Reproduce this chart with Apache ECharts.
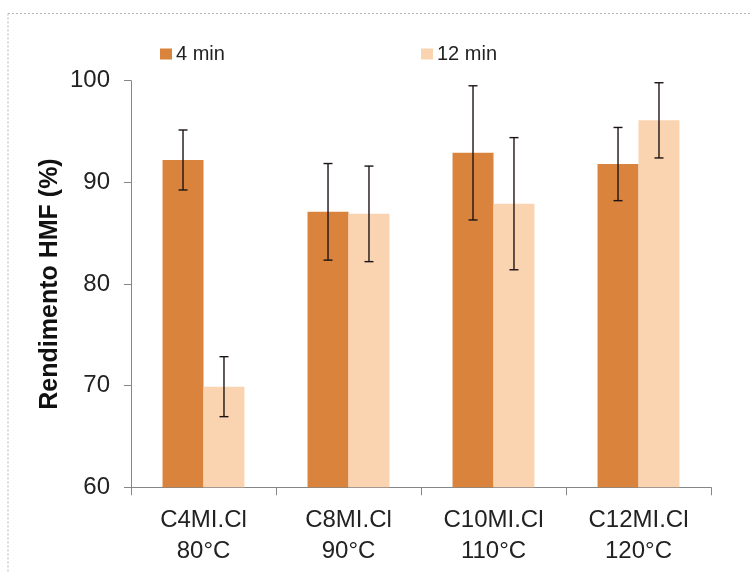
<!DOCTYPE html>
<html>
<head>
<meta charset="utf-8">
<script src="https://cdn.jsdelivr.net/npm/echarts@6/dist/echarts.min.js"></script>
<style>html,body{margin:0;padding:0;background:#fff;}#chart{width:751px;height:573px;}</style>
</head>
<body>
<div id="chart"></div>
<script>
var categories = ['C4MI.Cl\n80°C', 'C8MI.Cl\n90°C', 'C10MI.Cl\n110°C', 'C12MI.Cl\n120°C'];
var seriesNames = ['4 min', '12 min'];
var values4 = [92.2, 87.1, 92.9, 91.8];
var values12 = [69.9, 86.9, 87.9, 96.1];
var err4 = [2.95, 4.75, 6.6, 3.6];
var err12 = [2.95, 4.7, 6.5, 3.7];
var yTicks = [60, 70, 80, 90, 100];

var FONT = "'Liberation Sans', Arial, sans-serif";
var C4 = '#D9833C';
var C12 = '#FAD3B1';
var GAP = 0.435;

function errData(vals, errs) {
  return vals.map(function (v, i) { return [i, v - errs[i], v + errs[i]]; });
}
function errSeries(vals, errs, side) {
  return {
    type: 'custom',
    silent: true,
    z: 10,
    data: errData(vals, errs),
    encode: { x: 0, y: [1, 2] },
    renderItem: function (params, api) {
      var band = api.size([1, 0])[0];
      var off = side * band * (1 - GAP) / 4;
      var lo = api.coord([api.value(0), api.value(1)]);
      var hi = api.coord([api.value(0), api.value(2)]);
      var x = lo[0] + off;
      var cap = 4.5;
      var st = { stroke: '#1c1414', lineWidth: 1.4 };
      return {
        type: 'group',
        children: [
          { type: 'line', shape: { x1: x, y1: lo[1], x2: x, y2: hi[1] }, style: st },
          { type: 'line', shape: { x1: x - cap, y1: lo[1], x2: x + cap, y2: lo[1] }, style: st },
          { type: 'line', shape: { x1: x - cap, y1: hi[1], x2: x + cap, y2: hi[1] }, style: st }
        ]
      };
    }
  };
}

var chart = echarts.init(document.getElementById('chart'), null, { renderer: 'canvas' });
chart.setOption({
  backgroundColor: '#fff',
  animation: false,
  textStyle: { fontFamily: FONT },
  graphic: [
    { type: 'line', shape: { x1: 8, y1: 13.5, x2: 751, y2: 13.5 }, style: { stroke: '#b8b8b8', lineWidth: 1, lineDash: [2, 2] } },
    { type: 'line', shape: { x1: 8, y1: 13.5, x2: 8, y2: 573 }, style: { stroke: '#b8b8b8', lineWidth: 1, lineDash: [2, 2] } }
  ],
  legend: [
    { data: [seriesNames[0]], left: 155, top: 39, icon: 'rect', itemWidth: 12, itemHeight: 11, itemGap: 0,
      textStyle: { fontSize: 20, color: '#222', fontFamily: FONT, padding: [0, 0, 0, -1] } },
    { data: [seriesNames[1]], left: 416, top: 39, icon: 'rect', itemWidth: 12, itemHeight: 11, itemGap: 0,
      textStyle: { fontSize: 20, color: '#222', fontFamily: FONT, padding: [0, 0, 0, -1] } }
  ],
  grid: { left: 131, right: 40, top: 80.7, bottom: 85.7, containLabel: false },
  xAxis: {
    type: 'category',
    data: categories,
    axisLine: { lineStyle: { color: '#868686', width: 1 } },
    axisTick: { show: true, length: 8, lineStyle: { color: '#868686' } },
    axisLabel: { fontSize: 24, color: '#222', margin: 18, lineHeight: 31, fontFamily: FONT }
  },
  yAxis: {
    type: 'value',
    min: yTicks[0],
    max: yTicks[yTicks.length - 1],
    interval: 10,
    name: 'Rendimento HMF (%)',
    nameLocation: 'middle',
    nameMoveOverlap: false,
    nameGap: 68,
    nameTextStyle: { fontSize: 25, fontWeight: 'bold', color: '#111', fontFamily: FONT },
    axisLine: { show: true, lineStyle: { color: '#868686', width: 1 } },
    axisTick: { show: true, length: 7, lineStyle: { color: '#868686' } },
    splitLine: { show: false },
    axisLabel: { fontSize: 24, color: '#222', margin: 21, fontFamily: FONT }
  },
  series: [
    { name: seriesNames[0], type: 'bar', data: values4, barGap: '0%', barCategoryGap: (GAP * 100) + '%', itemStyle: { color: C4 } },
    { name: seriesNames[1], type: 'bar', data: values12, barGap: '0%', barCategoryGap: (GAP * 100) + '%', itemStyle: { color: C12 } },
    errSeries(values4, err4, -1),
    errSeries(values12, err12, 1)
  ]
});
</script>
</body>
</html>
